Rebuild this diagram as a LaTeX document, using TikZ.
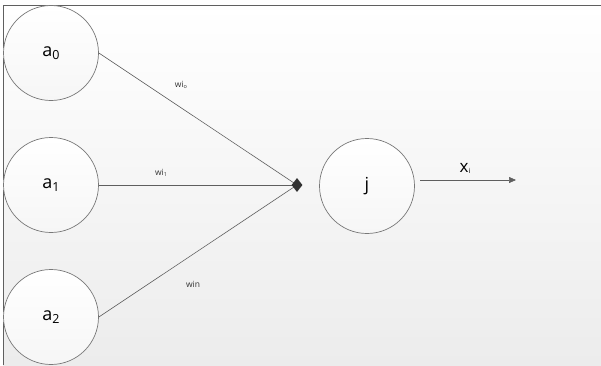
\documentclass[tikz,border=0pt]{standalone}
\usepackage{fontspec}
\setmainfont{Open Sans}
\usetikzlibrary{shapes.geometric,arrows.meta}
\definecolor{linegray}{RGB}{95,95,95}
\definecolor{circgray}{RGB}{120,120,120}
\definecolor{bggray}{RGB}{236,236,236}
\definecolor{diam}{RGB}{50,50,50}
\newcommand{\sbs}[1]{\raisebox{-3pt}{\fontsize{12.5}{12}\selectfont #1}}
\newcommand{\tsb}[1]{\raisebox{-1pt}{\fontsize{5.5}{6}\selectfont #1}}
\begin{document}
\begin{tikzpicture}[x=1pt,y=-1pt,
  neuron/.style={circle, draw=circgray, line width=0.7pt, top color=white, bottom color=gray!7, minimum size=95pt, inner sep=0pt, font=\fontsize{18}{18}\selectfont},
  conn/.style={draw=linegray, line width=0.6pt},
  wlab/.style={font=\fontsize{8.5}{9}\selectfont, text=black!80, inner sep=0pt},
  joint/.style={diamond, fill=diam, inner sep=0pt, minimum width=11pt, minimum height=14pt}
]
\useasboundingbox (0,0) rectangle (601,365);
\shade[top color=white, bottom color=bggray] (3,5) rectangle (601,365);
\draw[linegray, line width=0.8pt] (601,5) -- (3,5) -- (3,365);

\node[neuron] (a0) at (51,53) {a\sbs{0}};
\node[neuron] (a1) at (51,185) {a\sbs{1}};
\node[neuron] (a2) at (51,317) {a\sbs{2}};
\node[neuron] (j) at (367,186) {j};
\coordinate (dc) at (297,185);

\draw[conn] (a0.east) -- (dc);
\draw[conn] (a1.east) -- (dc);
\draw[conn] (a2.east) -- (dc);
\node[joint] (d) at (dc) {};

\coordinate (xs) at (420,180);
\coordinate (xe) at (516,180);
\draw[conn, -{Triangle[length=7pt,width=6pt]}] (xs) -- (xe);

\node[wlab] (w0) at (181,85) {wi\tsb{o}};
\node[wlab] (w1) at (161,173) {wi\tsb{1}};
\node[wlab] (w2) at (193,284) {win};
\node[font=\fontsize{17}{17}\selectfont, inner sep=0pt] (xi) at (465,168) {x\raisebox{-1pt}{\fontsize{7}{7}\selectfont i}};
\end{tikzpicture}
\end{document}
